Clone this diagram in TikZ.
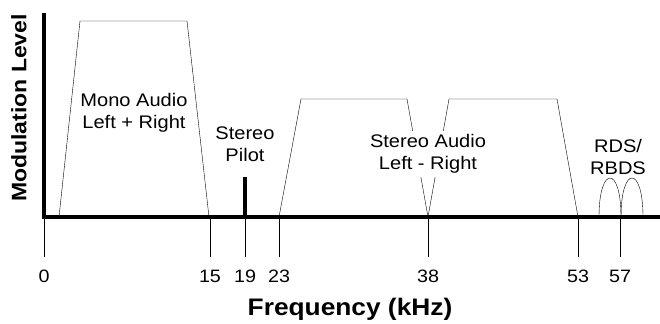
\documentclass[tikz,border=0pt]{standalone}
\usepackage{fontspec}
\setmainfont[FakeStretch=1.1]{Liberation Sans}
\tikzset{
	band/.style={thin},
	axisline/.style={line width=3.5bp},
	bandlabel/.style={align=center, font=\fontsize{18.3}{22.5}\selectfont},
	ticklabel/.style={font=\fontsize{18}{21}\selectfont},
	axistitle/.style={font=\bfseries\fontsize{#1}{27}\selectfont}
}
\begin{document}
\begin{tikzpicture}[x=1bp, y=-1bp]
\useasboundingbox (0,0) rectangle (660,323);

\draw[band] (59,217) -- (80,21) -- (187,21) -- (209,217);
\draw[band] (279,217) -- (301,99) -- (407,99) -- (428,217) -- (449,99) -- (557,99) -- (578,217);

\draw[band] (599,217) .. controls (599,165) and (621,165) .. (621,217);
\draw[band] (621,217) .. controls (621,165) and (643,165) .. (643,217);

\draw[axisline] (245,217) -- (245,177);

\foreach \x/\f in {44/0, 210/15, 245/19, 279/23, 428/38, 578/53, 620/57} {
	\draw[band] (\x,217) -- (\x,257);
	\node[ticklabel] (tick\f) at (\x,276) {\f};
}

\node[bandlabel] (mono) at (134,113) {Mono Audio\\Left + Right};
\node[bandlabel] (pilot) at (245,144) {Stereo\\Pilot};
\node[bandlabel, fill=white, inner sep=3bp] (stereo) at (428,154) {Stereo Audio\\Left - Right};
\node[bandlabel] (rds) at (618,157) {RDS/\\RBDS};

\draw[axisline] (44,13) -- (44,217) -- (660,217);

\node[axistitle=24] (freq) at (350,309) {Frequency (kHz)};
\node[axistitle=21, rotate=90] (level) at (19,108) {Modulation Level};

\end{tikzpicture}
\end{document}
